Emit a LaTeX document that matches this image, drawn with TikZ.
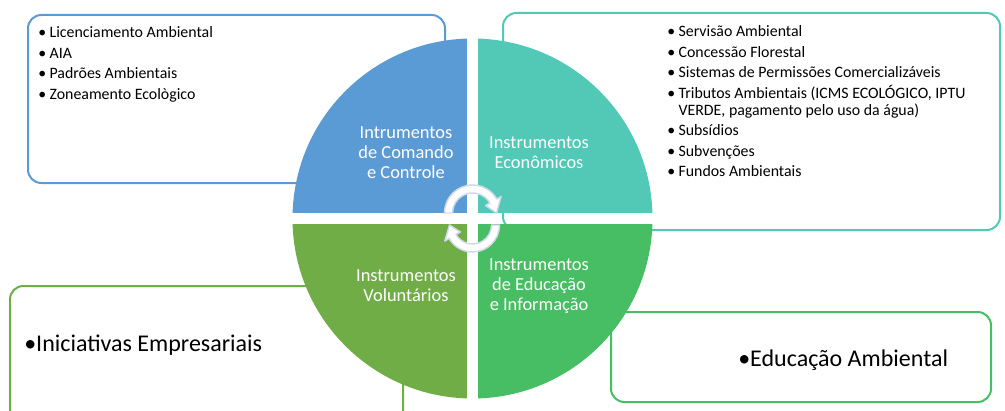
\documentclass[tikz,border=0pt]{standalone}
\usepackage{fontspec}
\setmainfont{Carlito}
\usepackage{xcolor}
\usepackage{tikz}
\usetikzlibrary{positioning,calc}

\definecolor{cmdblue}{RGB}{91,155,213}
\definecolor{ecoteal}{RGB}{82,201,182}
\definecolor{volgreen}{RGB}{112,173,71}
\definecolor{edugreen}{RGB}{71,190,99}
\definecolor{cyclegray}{RGB}{208,216,234}

\tikzset{
  listbox/.style={rounded corners=10pt, line width=1.5pt},
  quadlabel/.style={white, align=center, inner sep=0pt, font=\fontsize{13.8}{15}\selectfont},
  listtext/.style={black, align=left, inner sep=0pt, anchor=base west, font=\fontsize{11.9}{12.75}\selectfont},
  bigtext/.style={black, inner sep=0pt, anchor=base west, font=\fontsize{18}{21}\selectfont},
  cyclearrow/.style={fill=white, draw=cyclegray, line width=1.1pt, line join=round}
}
\newcommand{\bul}{\makebox[8.5pt][l]{•}}

\begin{document}
\begin{tikzpicture}[x=0.75pt,y=-0.75pt]
    \useasboundingbox (0,0) rectangle (1005,410);
    \clip (0,0) rectangle (1005,410);

    % Boxes behind the circle
    \draw[listbox, cmdblue] (28,15) rectangle (445,183);
    \draw[listbox, ecoteal] (503,13) rectangle (1000,230);
    \draw[listbox, volgreen] (10,286) rectangle (403,430);
    \draw[listbox, edugreen] (611,312) rectangle (991,402);

    % Four quadrants
    \coordinate (c) at (472.5,218.5);
    \begin{scope}
        \clip (c) circle (180);
        \fill[cmdblue] ($(c)+(-5.5,-5.5)$) rectangle ++(-190,-190);
        \fill[ecoteal] ($(c)+(5.5,-5.5)$) rectangle ++(190,-190);
        \fill[volgreen] ($(c)+(-5.5,5.5)$) rectangle ++(-190,190);
        \fill[edugreen] ($(c)+(5.5,5.5)$) rectangle ++(190,190);
    \end{scope}

    % Cycle arrows in the middle
    \coordinate (topc) at (472.5,213);
    \coordinate (botc) at (472.5,225);
    \draw[cyclearrow] ($(topc)+(180:28)$) arc (180:330:28) -- ($(topc)+(330:33)$)
        -- ($(topc)+(360:24)$) -- ($(topc)+(330:15)$) -- ($(topc)+(330:20)$) arc (330:180:20) -- cycle;
    \draw[cyclearrow] ($(botc)+(0:27)$) arc (0:150:27) -- ($(botc)+(150:32)$)
        -- ($(botc)+(180:23)$) -- ($(botc)+(150:14)$) -- ($(botc)+(150:19)$) arc (150:0:19) -- cycle;

    % Quadrant labels
    \node[quadlabel] (cmdlabel) at (406,152.5) {Intrumentos\\de Comando\\e Controle};
    \node[quadlabel] (ecolabel) at (539,152.5) {Instrumentos\\Econômicos};
    \node[quadlabel] (vollabel) at (406,285.8) {Instrumentos\\Voluntários};
    \node[quadlabel] (edulabel) at (539,285.8) {Instrumentos\\de Educação\\e Informação};

    % Lists (base = last line)
    \node[listtext] (cmdlist) at (38,99) {\bul Licenciamento Ambiental\\[2.6pt]\bul AIA\\[2.6pt]\bul Padrões Ambientais\\[2.6pt]\bul Zoneamento Ecològico};
    \node[listtext] (ecolist) at (667,176.7) {\bul Servisão Ambiental\\[2.6pt]\bul Concessão Florestal\\[2.6pt]\bul Sistemas de Permissões Comercializáveis\\[2.6pt]\bul Tributos Ambientais (ICMS ECOLÓGICO, IPTU\\\hspace*{8.5pt}VERDE, pagamento pelo uso da água)\\[2.6pt]\bul Subsídios\\[2.6pt]\bul Subvenções\\[2.6pt]\bul Fundos Ambientais};
    \node[bigtext] (vollist) at (24,351.7) {•Iniciativas Empresariais};
    \node[bigtext] (edulist) at (738,366.7) {•Educação Ambiental};

\end{tikzpicture}
\end{document}
